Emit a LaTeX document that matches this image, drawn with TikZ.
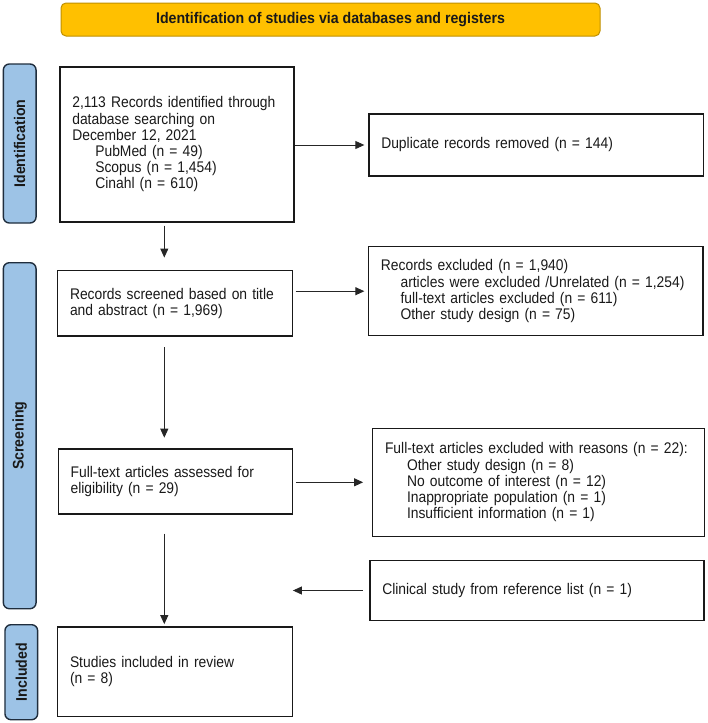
\documentclass[tikz,border=0pt]{standalone}
\usepackage{fontspec}
\setmainfont[FakeStretch=0.9]{Liberation Sans}
\newfontfamily\headfont[FakeStretch=0.92]{Liberation Sans}
\usetikzlibrary{arrows.meta,calc}
\definecolor{titlefill}{HTML}{FFC000}
\definecolor{titledraw}{HTML}{BF9000}
\definecolor{labfill}{HTML}{9DC3E6}
\definecolor{labdraw}{HTML}{1F2D3D}
\begin{document}
\begin{tikzpicture}[x=1pt,y=-1pt,
  every node/.style={font=\fontsize{15.4}{16.2}\selectfont, text=black!90},
  box/.style={draw=black!90, line width=1.2pt, rectangle, inner xsep=12.3pt, inner ysep=0pt, align=left},
  titlebox/.style={draw=titledraw, fill=titlefill, line width=1pt, rounded corners=5pt, inner sep=0pt, font=\headfont\fontsize{15.4}{16.2}\selectfont\bfseries},
  phase/.style={draw=labdraw, fill=labfill, line width=1.4pt, rounded corners=6pt, inner sep=0pt, rotate=90, font=\headfont\fontsize{15.4}{16.2}\selectfont\bfseries},
  arr/.style={draw=black!85, line width=0.9pt, -{Triangle[length=9pt,width=8pt]}}
]
\useasboundingbox (0,0) rectangle (708,723);

% title
\node[titlebox, minimum width=539pt, minimum height=33pt] (title) at (330.5,19.5) {Identification of studies via databases and registers};

% phase labels
\node[phase, minimum width=159pt, minimum height=32.7pt] (ident) at (19.7,143.5) {Identification};
\node[phase, minimum width=346pt, minimum height=32.7pt] (screen) at (19.7,435.7) {Screening};
\node[phase, minimum width=95pt, minimum height=32.7pt] (incl) at (21.3,672.2) {Included};

% left column
\node[box, text width=209.4pt, minimum height=155pt] (box1) at (177,144.5)
  {2,113 Records identified through\\database searching on\\December 12, 2021\\\hspace*{23pt}PubMed (n = 49)\\\hspace*{23pt}Scopus (n = 1,454)\\\hspace*{23pt}Cinahl (n = 610)};
\node[box, text width=210pt, minimum height=65.3pt] (box2) at (175,303.3)
  {\mbox{Records screened based on title}\\and abstract (n = 1,969)};
\node[box, text width=209.4pt, minimum height=65pt] (box3) at (175.3,481.5)
  {Full-text articles assessed for\\eligibility (n = 29)};
\node[box, text width=210pt, minimum height=89.3pt] (box4) at (175,671.7)
  {Studies included in review\\(n = 8)};

% right column
\node[box, text width=310.1pt, minimum height=62pt] (dup) at (536.3,145)
  {Duplicate records removed (n = 144)};
\node[box, text width=309.7pt, minimum height=89pt] (excl) at (535.8,291.2)
  {Records excluded (n = 1,940)\\\hspace*{19.6pt}\mbox{articles were excluded /Unrelated (n = 1,254)}\\\hspace*{19.6pt}full-text articles excluded (n = 611)\\\hspace*{19.6pt}Other study design (n = 75)};
\node[box, text width=307.4pt, minimum height=108pt] (ftexcl) at (538.7,482.3)
  {\mbox{Full-text articles excluded with reasons (n = 22):}\\\hspace*{22pt}Other study design (n = 8)\\\hspace*{22pt}No outcome of interest (n = 12)\\\hspace*{22pt}Inappropriate population (n = 1)\\\hspace*{22pt}Insufficient information (n = 1)};
\node[box, text width=309.4pt, minimum height=60.4pt] (clin) at (537,590.5)
  {Clinical study from reference list (n = 1)};

% connectors
\coordinate (vx) at (164.3,0);
\coordinate (cend) at (clin.west -| box3.east);
\draw[arr, shorten >=4pt] (box1.east |- dup.west) -- (dup.west);
\draw[arr, shorten <=3pt, shorten >=12.5pt] (vx |- box1.south) -- (vx |- box2.north);
\draw[arr, shorten <=2.7pt, shorten >=3.7pt] (box2.east |- excl.west) -- (excl.west);
\draw[arr, shorten <=10.7pt, shorten >=10.7pt] (vx |- box2.south) -- (vx |- box3.north);
\draw[arr, shorten <=3pt, shorten >=9pt] (box3.east |- ftexcl.west) -- (ftexcl.west);
\draw[arr, shorten <=19pt, shorten >=2.3pt] (vx |- box3.south) -- (vx |- box4.north);
\draw[arr, shorten <=6.7pt] (clin.west) -- (cend);
\end{tikzpicture}
\end{document}
